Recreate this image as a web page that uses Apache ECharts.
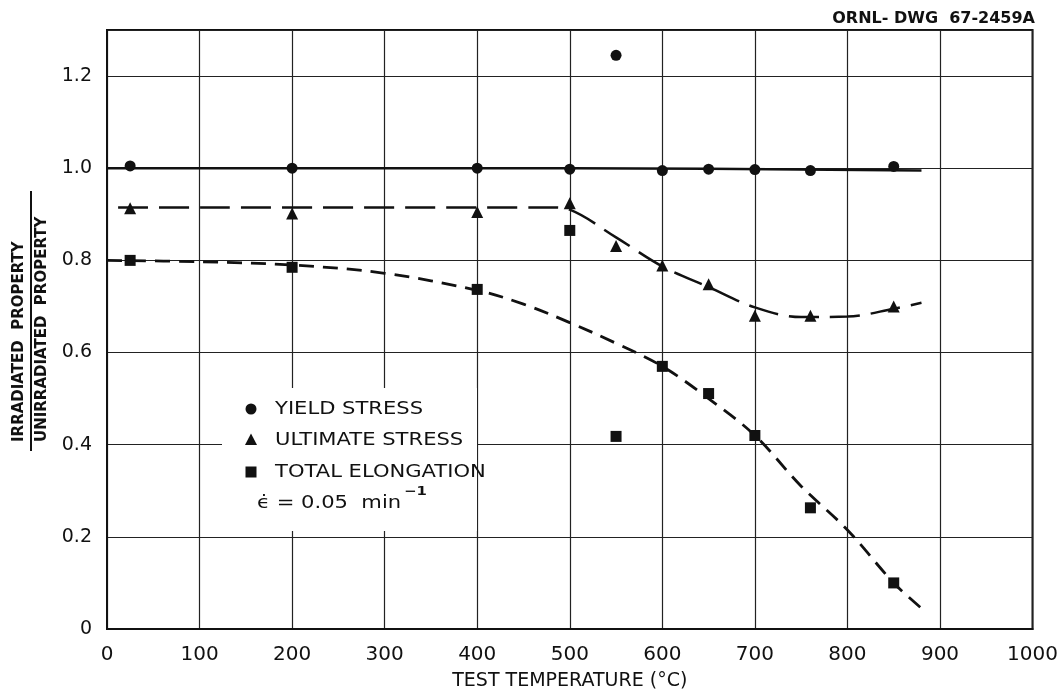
<!DOCTYPE html>
<html>
<head>
<meta charset="utf-8">
<script src="https://cdn.jsdelivr.net/npm/echarts@6/dist/echarts.min.js"></script>
<style>
  html, body { margin: 0; padding: 0; background: #fff; }
  #chart { width: 1061px; height: 698px; }
</style>
</head>
<body>
<div id="chart"></div>
<script>
// Test temperatures (°C) at which specimens were tested
const temps = [25, 200, 400, 500, 550, 600, 650, 700, 760, 850];

// Irradiated / unirradiated property ratios
const yieldStress    = [1.005, 1.0, 1.0, 0.998, 1.245, 0.995, 0.998, 0.997, 0.995, 1.004];
const ultimateStress = [0.913, 0.902, 0.905, 0.924, 0.831, 0.789, 0.748, 0.680, 0.680, 0.700];
const totalElong     = [0.800, 0.785, 0.737, 0.865, 0.418, 0.570, 0.511, 0.420, 0.263, 0.100];

// Hand-faired trend curves through each data set
const yieldCurveX = [0, 500, 880];
const yieldCurveY = [1.0, 1.0, 0.995];
const ultCurveX = [12, 480, 500, 550, 600, 650, 700, 750, 800, 850, 880];
const ultCurveY = [0.915, 0.915, 0.91, 0.85, 0.787, 0.742, 0.698, 0.677, 0.678, 0.695, 0.708];
const elongCurveX = [0, 100, 200, 300, 400, 450, 500, 550, 600, 650, 700, 750, 800, 850, 880];
const elongCurveY = [0.80, 0.797, 0.79, 0.772, 0.735, 0.705, 0.665, 0.62, 0.57, 0.50, 0.42, 0.31, 0.215, 0.10, 0.045];

const xTicks = [0, 100, 200, 300, 400, 500, 600, 700, 800, 900, 1000];
const yTicks = [0, 0.2, 0.4, 0.6, 0.8, 1.0, 1.2];

const seriesNames = ['YIELD STRESS', 'ULTIMATE STRESS', 'TOTAL ELONGATION'];
const rateLabel = 'ϵ̇ = 0.05  min';
const rateExponent = '−1';

const zip = (xs, ys) => xs.map((x, i) => [x, ys[i]]);
const FONT = 'DejaVu Sans';
const INK = '#111';

// Lettering on the drawing is extended; stretch key text horizontally
const LEGEND_FONT = '17px ' + FONT;
const STRETCH = 1.24;
const measure = (text, font) => {
  const ctx = document.createElement('canvas').getContext('2d');
  ctx.font = font;
  return ctx.measureText(text).width;
};

const chart = echarts.init(document.getElementById('chart'), null, { renderer: 'canvas' });

const curve = (xs, ys, dash, width) => ({
  type: 'line',
  data: zip(xs, ys),
  smooth: 0.35,
  showSymbol: false,
  silent: true,
  lineStyle: { color: INK, width: width, type: dash, cap: 'butt' },
  z: 3
});

const points = (name, ys, symbol, size) => ({
  name: name,
  type: 'scatter',
  data: zip(temps, ys),
  symbol: symbol,
  symbolSize: size,
  itemStyle: { color: INK, opacity: 1 },
  z: 5
});

// Key: blank panel over the grid, then marker glyph + label rows
const keyX = 251, keyTextX = 275;
const keyGraphics = [{
  type: 'rect', z: 1,
  shape: { x: 222, y: 388, width: 255, height: 143 },
  style: { fill: '#fff' }
}];
const keyRows = [
  { y: 409, label: seriesNames[0], shape: { type: 'circle', shape: { cx: 0, cy: 0, r: 5.5 } } },
  { y: 440, label: seriesNames[1], shape: { type: 'polygon', shape: { points: [[0, -6.5], [6, 5], [-6, 5]] } } },
  { y: 472, label: seriesNames[2], shape: { type: 'rect', shape: { x: -5.5, y: -5.5, width: 11, height: 11 } } }
];
keyRows.forEach(r => {
  keyGraphics.push(Object.assign({}, r.shape, { x: keyX, y: r.y, z: 2, style: { fill: INK } }));
  keyGraphics.push({
    type: 'text', x: keyTextX, y: r.y + 1, z: 2, scaleX: STRETCH,
    style: { text: r.label, font: LEGEND_FONT, fill: INK, verticalAlign: 'middle' }
  });
});
const rateW = measure(rateLabel, LEGEND_FONT) * STRETCH;
keyGraphics.push({
  type: 'text', x: 257, y: 504, z: 2, scaleX: STRETCH,
  style: { text: rateLabel, font: LEGEND_FONT, fill: INK, verticalAlign: 'middle' }
});
keyGraphics.push({
  type: 'text', x: 257 + rateW + 3, y: 492, z: 2, scaleX: STRETCH,
  style: { text: rateExponent, font: 'bold 12px ' + FONT, fill: INK, verticalAlign: 'middle' }
});

chart.setOption({
  animation: false,
  backgroundColor: '#fff',
  grid: {
    left: 107, right: 27, top: 30, bottom: 69,
    show: true, borderColor: INK, borderWidth: 2, backgroundColor: 'transparent'
  },
  xAxis: {
    type: 'value', min: 0, max: 1000, interval: 100,
    name: 'TEST TEMPERATURE (°C)', nameLocation: 'middle', nameGap: 43,
    nameTextStyle: { fontFamily: FONT, fontSize: 19, color: INK, verticalAlign: 'top' },
    axisLine: { show: true, lineStyle: { color: INK, width: 2 } },
    axisTick: { show: false },
    axisLabel: {
      margin: 16, fontFamily: FONT, fontSize: 20, color: INK,
      formatter: v => xTicks.includes(v) ? String(v) : ''
    },
    splitLine: { show: true, lineStyle: { color: '#222', width: 1.2 } }
  },
  yAxis: {
    type: 'value', min: 0, max: 1.3, interval: 0.2,
    axisLine: { show: true, lineStyle: { color: INK, width: 2 } },
    axisTick: { show: false },
    axisLabel: {
      margin: 15, fontFamily: FONT, fontSize: 19, color: INK,
      formatter: v => {
        const t = yTicks.find(k => Math.abs(k - v) < 1e-6);
        if (t === undefined) return '';
        return t === 0 ? '0' : t.toFixed(1);
      }
    },
    splitLine: { show: true, lineStyle: { color: '#222', width: 1.2 } }
  },
  graphic: [
    {
      type: 'text', right: 26, top: 11,
      style: { text: 'ORNL- DWG  67-2459A', font: 'bold 16px ' + FONT, fill: INK }
    },
    ...keyGraphics,
    {
      type: 'group', x: 31, y: 321, rotation: Math.PI / 2,
      children: [
        {
          type: 'text', x: -121, y: -4,
          style: { text: 'IRRADIATED  PROPERTY', font: 'bold 15px ' + FONT, fill: INK, align: 'left', verticalAlign: 'bottom' }
        },
        {
          type: 'line',
          shape: { x1: -130, y1: 0, x2: 130, y2: 0 },
          style: { stroke: INK, lineWidth: 2 }
        },
        {
          type: 'text', x: -121, y: 4,
          style: { text: 'UNIRRADIATED  PROPERTY', font: 'bold 15px ' + FONT, fill: INK, align: 'left', verticalAlign: 'top' }
        }
      ]
    }
  ],
  series: [
    curve(yieldCurveX, yieldCurveY, 'solid', 2.5),
    curve(ultCurveX, ultCurveY, [30, 11], 2.5),
    curve(elongCurveX, elongCurveY, [15, 9], 2.8),
    points(seriesNames[0], yieldStress, 'circle', 11),
    points(seriesNames[1], ultimateStress, 'triangle', 12),
    points(seriesNames[2], totalElong, 'rect', 11)
  ]
});
</script>
</body>
</html>
